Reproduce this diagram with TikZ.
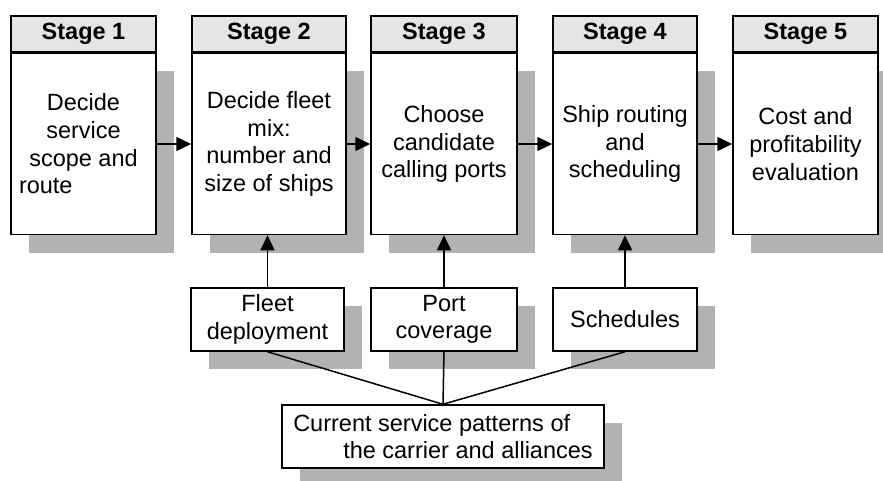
\documentclass[tikz,border=0pt]{standalone}
\usepackage{fontspec}
\setmainfont{Liberation Sans}
\usetikzlibrary{positioning, shadows, arrows.meta}
\newcommand{\diafont}{\fontsize{23.5}{27.7}\selectfont}
\tikzstyle{stagehead} = [rectangle, minimum height=36pt, text centered, draw=black, line width=1.5pt, fill=black!10, font=\diafont\bfseries]
\tikzstyle{stagebody} = [rectangle, minimum height=181pt, align=center, draw=black, line width=1.5pt, fill=white, font=\diafont, drop shadow={shadow xshift=18pt, shadow yshift=-18pt, fill=black!30, opacity=1}]
\tikzstyle{input} = [rectangle, minimum height=63pt, align=center, draw=black, line width=1.5pt, fill=white, font=\diafont, drop shadow={shadow xshift=18pt, shadow yshift=-18pt, fill=black!30, opacity=1}]
\tikzstyle{arrow} = [line width=1.5pt, -{Triangle[length=15pt, width=14pt]}]
\tikzstyle{link} = [line width=1.5pt]

\begin{document}
\begin{tikzpicture}[x=1pt, y=-1pt, inner sep=0pt]
			\useasboundingbox (0,0) rectangle (883,481);
			% Stages
			\node(s1h)[stagehead, minimum width=145pt] at (83.5,34) {Stage 1};
			\node(s1)[stagebody, minimum width=145pt, below=0pt of s1h] {Decide\\service\\scope and\\\makebox[129pt][l]{route}};
			\node(s2h)[stagehead, minimum width=154pt] at (269,34) {Stage 2};
			\node(s2)[stagebody, minimum width=154pt, below=0pt of s2h] {Decide fleet\\mix:\\number and\\size of ships};
			\node(s3h)[stagehead, minimum width=146pt] at (444,34) {Stage 3};
			\node(s3)[stagebody, minimum width=146pt, below=0pt of s3h] {Choose\\candidate\\calling ports};
			\node(s4h)[stagehead, minimum width=144pt] at (625,34) {Stage 4};
			\node(s4)[stagebody, minimum width=144pt, below=0pt of s4h] {Ship routing\\and\\scheduling};
			\node(s5h)[stagehead, minimum width=145pt] at (805.5,34) {Stage 5};
			\node(s5)[stagebody, minimum width=145pt, below=0pt of s5h] {Cost and\\profitability\\evaluation};
			% Inputs
			\node(fleet)[input, minimum width=153pt] at (267.5,319.5) {Fleet\\deployment};
			\node(port)[input, minimum width=146pt] at (444,319.5) {Port\\coverage};
			\node(sched)[input, minimum width=144pt] at (625,319.5) {Schedules};
			\node(pattern)[input, minimum width=322pt, align=left] at (443,436.5) {Current service patterns of\\\hspace*{50pt}the carrier and alliances};
			\draw [arrow] (s1) -- (s2);
			\draw [arrow] (s2) -- (s3);
			\draw [arrow] (s3) -- (s4);
			\draw [arrow] (s4) -- (s5);
			\draw [arrow] (fleet.north) -- (fleet.north |- s2.south);
			\draw [arrow] (port.north) -- (port.north |- s3.south);
			\draw [arrow] (sched.north) -- (sched.north |- s4.south);
			\draw [link] (fleet.south) -- (pattern.north);
			\draw [link] (port.south) -- (pattern.north);
			\draw [link] (sched.south) -- (pattern.north);
		\end{tikzpicture}
\end{document}
